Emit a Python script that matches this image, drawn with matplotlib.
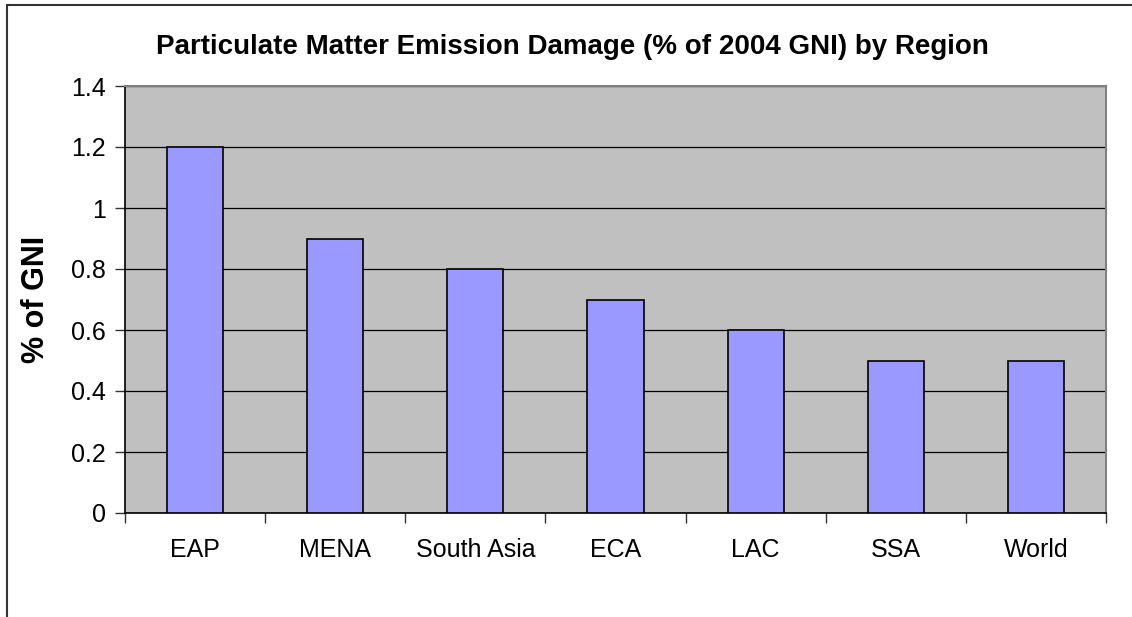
import matplotlib.pyplot as plt
import numpy as np
from matplotlib.patches import Rectangle

regions = ['EAP', 'MENA', 'South Asia', 'ECA', 'LAC', 'SSA', 'World']
damage = [1.2, 0.9, 0.8, 0.7, 0.6, 0.5, 0.5]
yticks = [0, 0.2, 0.4, 0.6, 0.8, 1, 1.2, 1.4]
ytick_labels = ['0', '0.2', '0.4', '0.6', '0.8', '1', '1.2', '1.4']

plt.rcParams['font.family'] = ['Liberation Sans', 'DejaVu Sans']

W, H = 1132, 617
fig = plt.figure(figsize=(W / 100, H / 100), dpi=100)

# chart border (right/bottom edges fall outside the image)
fig.patches.append(Rectangle((7 / W, -0.05), 1.2, 1 - 5 / H + 0.05,
                             transform=fig.transFigure, fill=False,
                             edgecolor='#333333', linewidth=1.5))

left, right, bottom, top = 125 / W, 1106 / W, (H - 513) / H, (H - 86) / H
ax = fig.add_axes([left, bottom, right - left, top - bottom])
ax.set_facecolor('#C0C0C0')

x = np.arange(len(regions))
ax.bar(x, damage, width=0.4, color='#9999FF', edgecolor='black', linewidth=1.2, zorder=3)

ax.set_xlim(-0.5, len(regions) - 0.5)
ax.set_ylim(0, 1.4)
ax.set_yticks(yticks)
ax.set_yticklabels(ytick_labels, fontsize=18)
ax.yaxis.grid(True, color='black', linewidth=0.9)
ax.set_axisbelow(True)

# tick marks at category boundaries, labels at centres
ax.set_xticks(np.arange(-0.5, len(regions), 1.0))
ax.set_xticklabels([])
ax.set_xticks(x, minor=True)
ax.set_xticklabels(regions, minor=True, fontsize=18)
ax.tick_params(axis='x', which='minor', length=0, pad=18)
ax.tick_params(axis='x', which='major', length=7, width=1, color='#333333')
ax.tick_params(axis='y', length=7, width=1, color='#333333', pad=7)

for side in ['top', 'right']:
    ax.spines[side].set_color('#808080')
    ax.spines[side].set_linewidth(1.5)
for side in ['left', 'bottom']:
    ax.spines[side].set_color('black')
    ax.spines[side].set_linewidth(1.2)

ax.set_ylabel('% of GNI', fontsize=22, fontweight='bold', labelpad=14)
fig.text(572 / W, 1 - 47 / H,
         'Particulate Matter Emission Damage (% of 2004 GNI) by Region',
         ha='center', va='center', fontsize=20, fontweight='bold')

fig.savefig('out.png', dpi=100)
